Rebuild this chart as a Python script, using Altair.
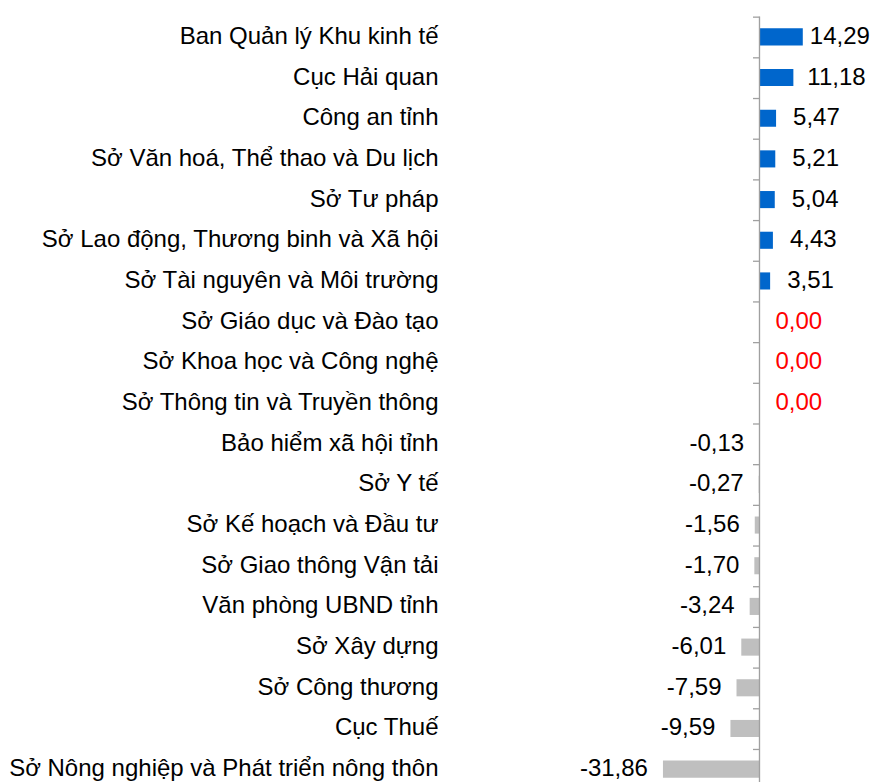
import altair as alt
import pandas as pd

categories = [
    "Ban Quản lý Khu kinh tế",
    "Cục Hải quan",
    "Công an tỉnh",
    "Sở Văn hoá, Thể thao và Du lịch",
    "Sở Tư pháp",
    "Sở Lao động, Thương binh và Xã hội",
    "Sở Tài nguyên và Môi trường",
    "Sở Giáo dục và Đào tạo",
    "Sở Khoa học và Công nghệ",
    "Sở Thông tin và Truyền thông",
    "Bảo hiểm xã hội tỉnh",
    "Sở Y tế",
    "Sở Kế hoạch và Đầu tư",
    "Sở Giao thông Vận tải",
    "Văn phòng UBND tỉnh",
    "Sở Xây dựng",
    "Sở Công thương",
    "Cục Thuế",
    "Sở Nông nghiệp và Phát triển nông thôn",
]
values = [14.29, 11.18, 5.47, 5.21, 5.04, 4.43, 3.51, 0.00, 0.00, 0.00,
          -0.13, -0.27, -1.56, -1.70, -3.24, -6.01, -7.59, -9.59, -31.86]

df = pd.DataFrame({"cat": categories, "val": values})
df["label"] = [f"{v:.2f}".replace(".", ",") for v in values]
df["sign"] = ["pos" if v > 0 else ("zero" if v == 0 else "neg") for v in values]

n = len(categories)
# axis guide pieces (in data units): tick marks at category boundaries, and the zero line
boundaries = list(range(n))
tick_df = pd.DataFrame({"bt": boundaries, "bb": [b + 0.032 for b in boundaries],
                        "tl": [-2.15] * n, "tr": [0.0] * n})
zl_df = pd.DataFrame({"zl": [-0.22], "zr": [0.22], "zt": [0.0], "zb": [n + 0.5]})

FONT = "Liberation Sans"
FS = 24
XDOM = [-102.8, 36.8]
WIDTH = 423
HEIGHT = 773
AXIS_GRAY = "#A0A0A0"

xscale = alt.Scale(domain=XDOM, nice=False, zero=False)
y_lab = alt.Y("cat:N", sort=categories,
              scale=alt.Scale(paddingInner=0.58, paddingOuter=0.29),
              axis=alt.Axis(title=None, ticks=False, domain=False, labelPadding=10,
                            labelFont=FONT, labelFontSize=FS, labelColor="black",
                            labelLimit=700, orient="left"))
x_enc = alt.X("val:Q", scale=xscale, axis=None)

base = alt.Chart(df)

bars = base.mark_bar().encode(
    x=x_enc,
    x2=alt.X2("zero:Q"),
    y=y_lab,
    color=alt.Color("sign:N", scale=alt.Scale(domain=["pos", "zero", "neg"],
                                              range=["#0066CC", "#0066CC", "#BFBFBF"]),
                    legend=None),
).transform_calculate(zero="0")


def txt(filt, align, dx, color):
    return base.transform_filter(filt).mark_text(
        align=align, baseline="middle", dx=dx, font=FONT, fontSize=FS, color=color
    ).encode(x=x_enc, y=y_lab, text="label:N")


# the two longest positive labels sit a little closer to their bars so they stay inside the page
pos_text_a = txt("datum.val > 12", "left", 7, "black")
pos_text_b = txt("datum.val > 10 && datum.val <= 12", "left", 14, "black")
pos_text_c = txt("datum.val > 0 && datum.val <= 10", "left", 17, "black")
zero_text = txt("datum.val == 0", "left", 16, "#FF0000")
neg_text = txt("datum.val < 0", "right", -15, "black")

main = alt.layer(bars, pos_text_a, pos_text_b, pos_text_c, zero_text, neg_text)

qy = alt.Scale(domain=[n, 0], nice=False, zero=False)

ticks = alt.Chart(tick_df).mark_rect(color=AXIS_GRAY).encode(
    x=alt.X("tl:Q", scale=xscale, axis=None),
    x2=alt.X2("tr:Q"),
    y=alt.Y("bt:Q", scale=qy, axis=None),
    y2=alt.Y2("bb:Q"),
)

zline = alt.Chart(zl_df).mark_rect(color=AXIS_GRAY).encode(
    x=alt.X("zl:Q", scale=xscale, axis=None),
    x2=alt.X2("zr:Q"),
    y=alt.Y("zt:Q", scale=qy, axis=None),
    y2=alt.Y2("zb:Q"),
)

guides = alt.layer(zline, ticks)

chart = alt.layer(main, guides).resolve_scale(y="independent").properties(
    width=WIDTH,
    height=HEIGHT,
    autosize=alt.AutoSizeParams(type="none"),
    padding={"left": 440, "top": 8.5, "right": 0, "bottom": 0},
).configure(background="white").configure_view(strokeWidth=0, stroke="transparent")

chart.save("out.html", embed_options={"renderer": "svg", "actions": False})
